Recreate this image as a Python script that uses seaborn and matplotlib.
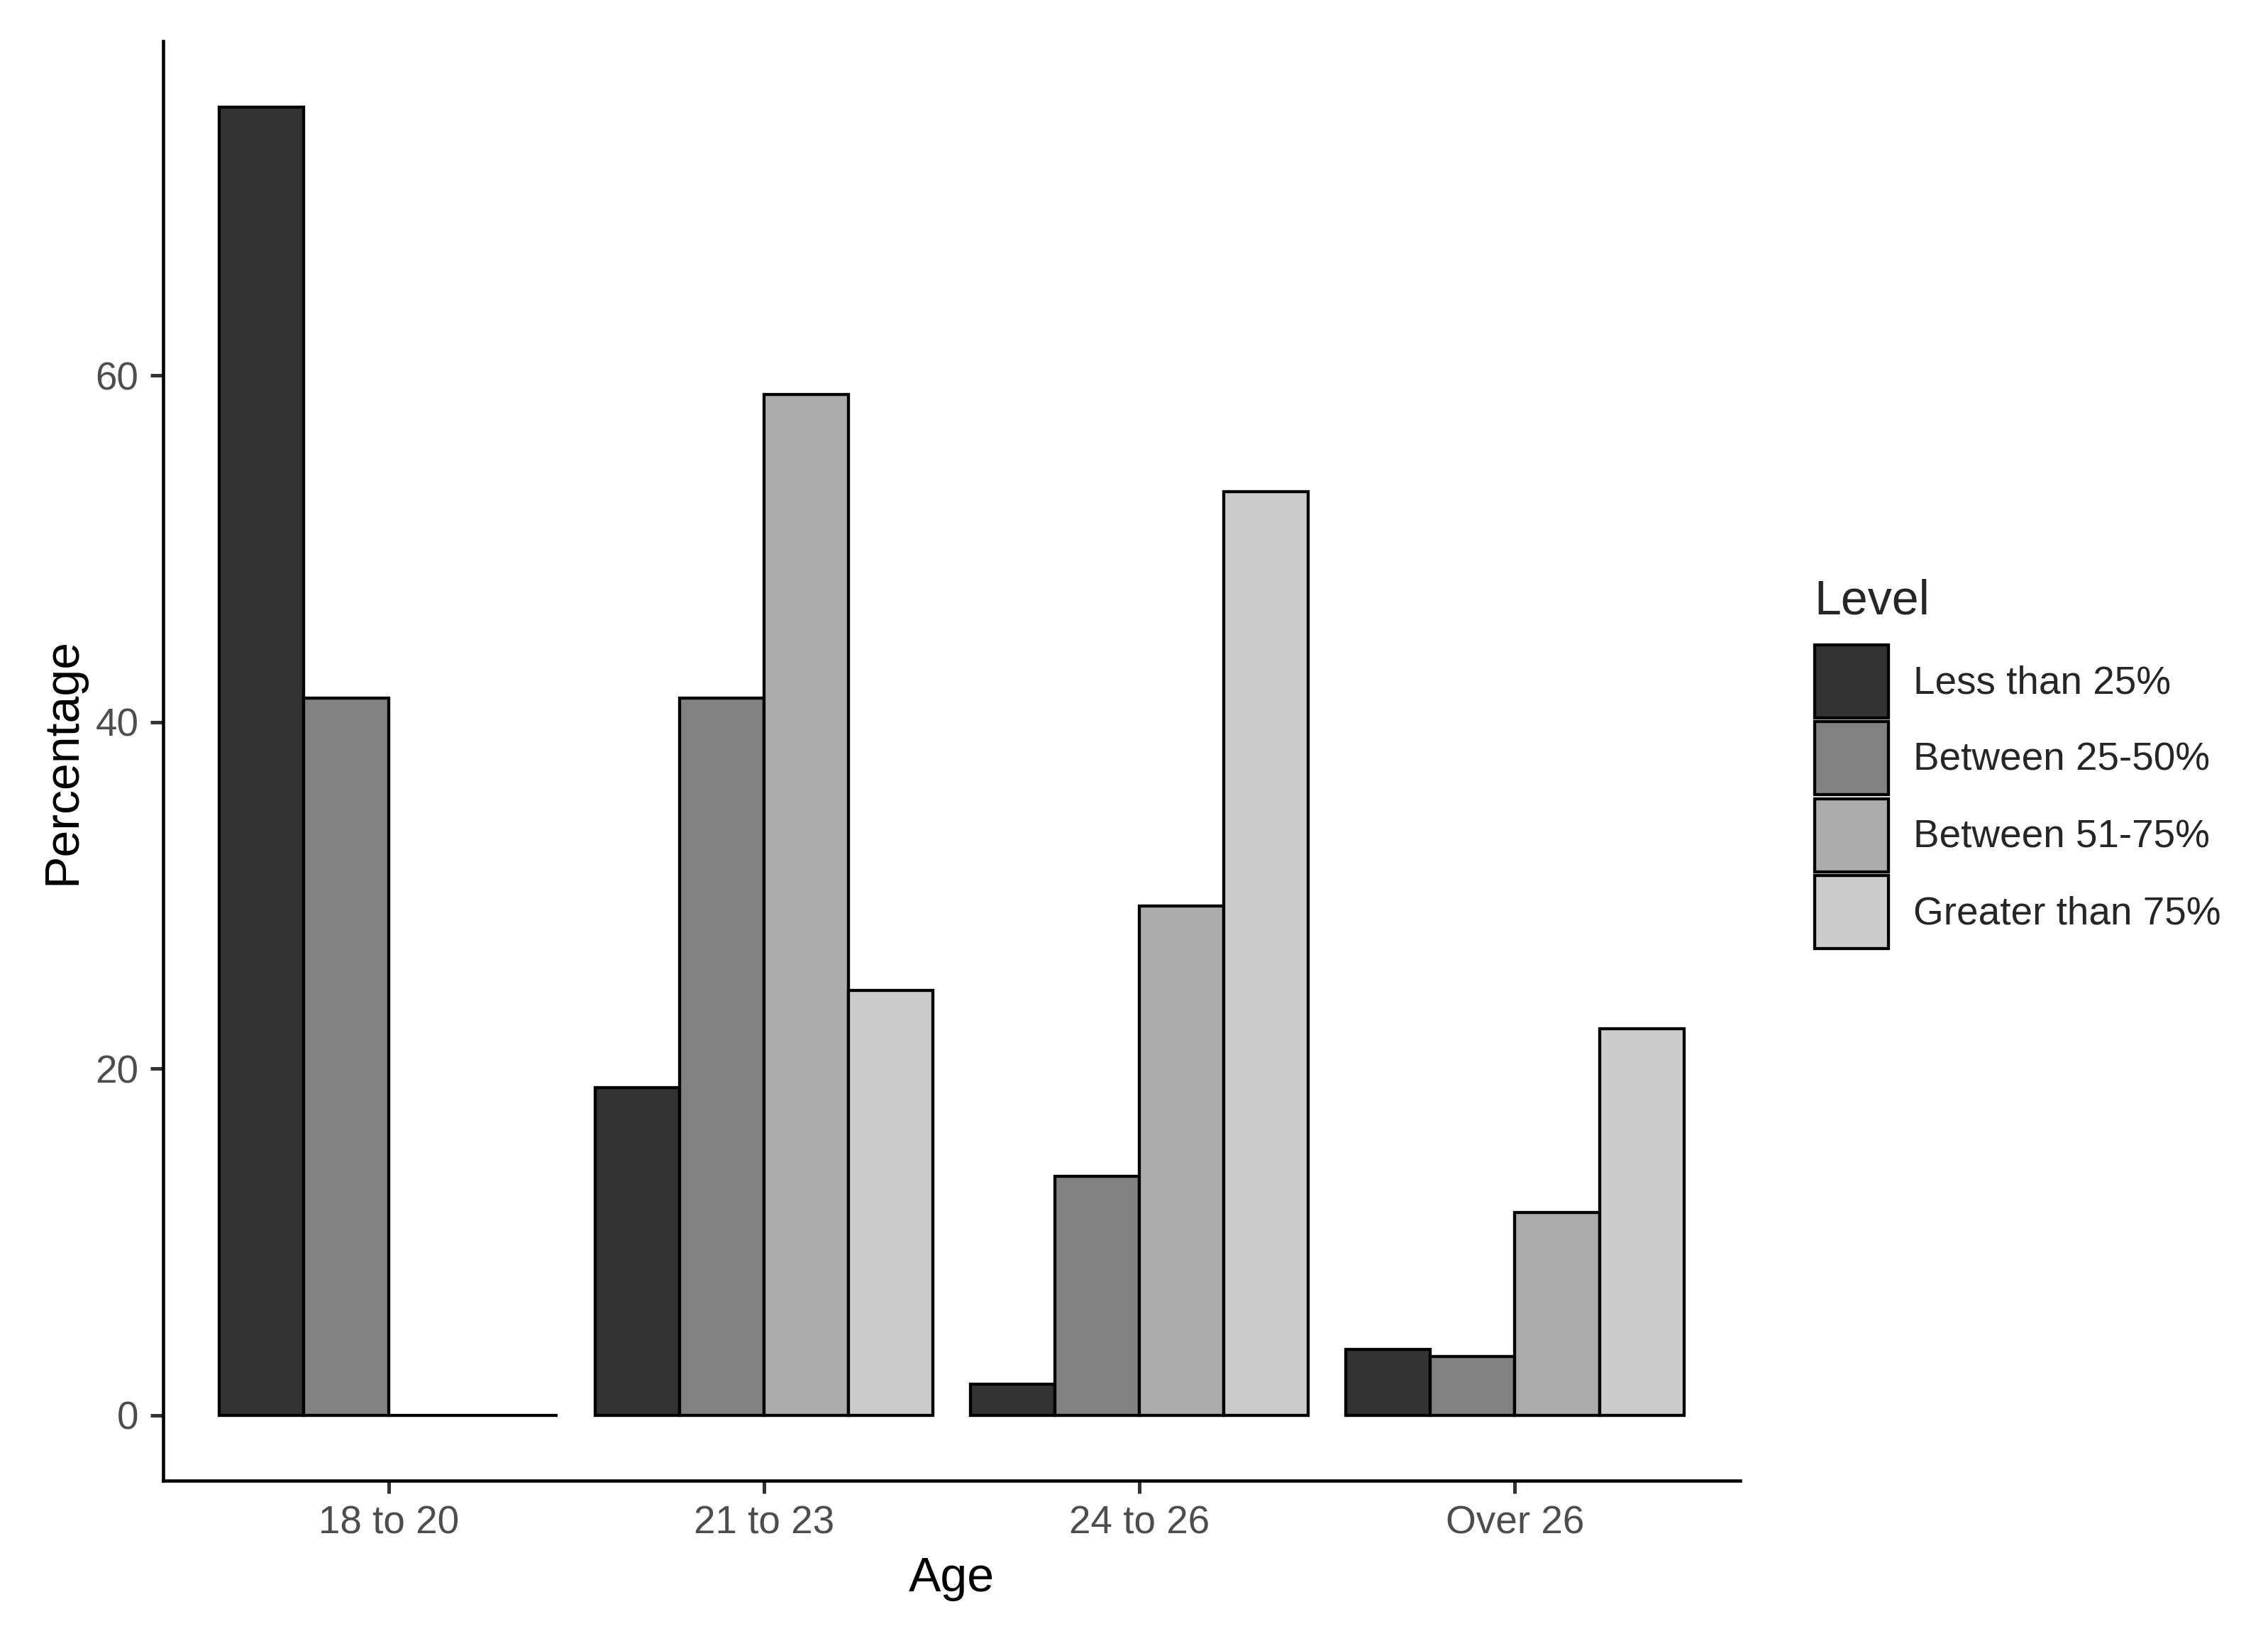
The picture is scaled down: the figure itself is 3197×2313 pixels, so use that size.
import numpy as np
import pandas as pd
import matplotlib.pyplot as plt
import seaborn as sns
from matplotlib.patches import Patch

# values (percent)
ages = ["18 to 20", "21 to 23", "24 to 26", "Over 26"]
levels = ["Less than 25%", "Between 25-50%", "Between 51-75%", "Greater than 75%"]
less_25 = [75.5, 18.9, 1.8, 3.8]
between_25_50 = [41.4, 41.4, 13.8, 3.4]
between_51_75 = [0.0, 58.9, 29.4, 11.7]
greater_75 = [0.0, 24.5, 53.3, 22.3]
fills = ["#333333", "#818181", "#ABABAB", "#CCCCCC"]
y_ticks = [0, 20, 40, 60]

series = [less_25, between_25_50, between_51_75, greater_75]
df = pd.DataFrame({
    "Age": ages * len(levels),
    "Level": np.repeat(levels, len(ages)),
    "Percentage": np.concatenate(series),
})

sns.set_theme(style="ticks")
plt.rcParams["font.family"] = ["Liberation Sans", "DejaVu Sans"]

W, H = 3197, 2313
fig = plt.figure(figsize=(W / 100, H / 100), dpi=100)
ax = fig.add_axes([230 / W, 1 - 2087 / H, (2453 - 230) / W, (2087 - 58) / H])

sns.barplot(
    data=df, x="Age", y="Percentage", hue="Level",
    order=ages, hue_order=levels, palette=fills, saturation=1,
    width=0.9, edgecolor="black", linewidth=3.1,
    errorbar=None, legend=False, ax=ax,
)

ax.set_xlim(-0.6, len(ages) - 0.4)
ax.set_ylim(-3.78, 79.3)
ax.set_yticks(y_ticks)

for side in ["top", "right"]:
    ax.spines[side].set_visible(False)
for side in ["left", "bottom"]:
    ax.spines[side].set_linewidth(3.3)
    ax.spines[side].set_color("black")

ax.tick_params(axis="both", length=13, width=3.6, color="#333333",
               labelsize=39.5, labelcolor="#4D4D4D")
ax.tick_params(axis="x", pad=12)
ax.tick_params(axis="y", pad=12)

ax.set_xlabel("Age", fontsize=49, color="black", labelpad=14)
ax.set_ylabel("Percentage", fontsize=49, color="black", labelpad=10)

# legend keys drawn as filled squares, title placed separately
handles = [Patch(facecolor=c, edgecolor="black", linewidth=3.1) for c in fills]
fig.legend(
    handles, levels, loc="upper left",
    bbox_to_anchor=(2558 / W, 1 - 909 / H),
    frameon=False, fontsize=39.5,
    handlelength=1.89, handleheight=2.51,
    labelspacing=0.1, handletextpad=0.65,
    borderpad=0, borderaxespad=0,
)
fig.text(2557 / W, 1 - 866 / H, "Level", fontsize=49, va="baseline", ha="left")

fig.savefig("out.png", dpi=100)
plt.close(fig)
